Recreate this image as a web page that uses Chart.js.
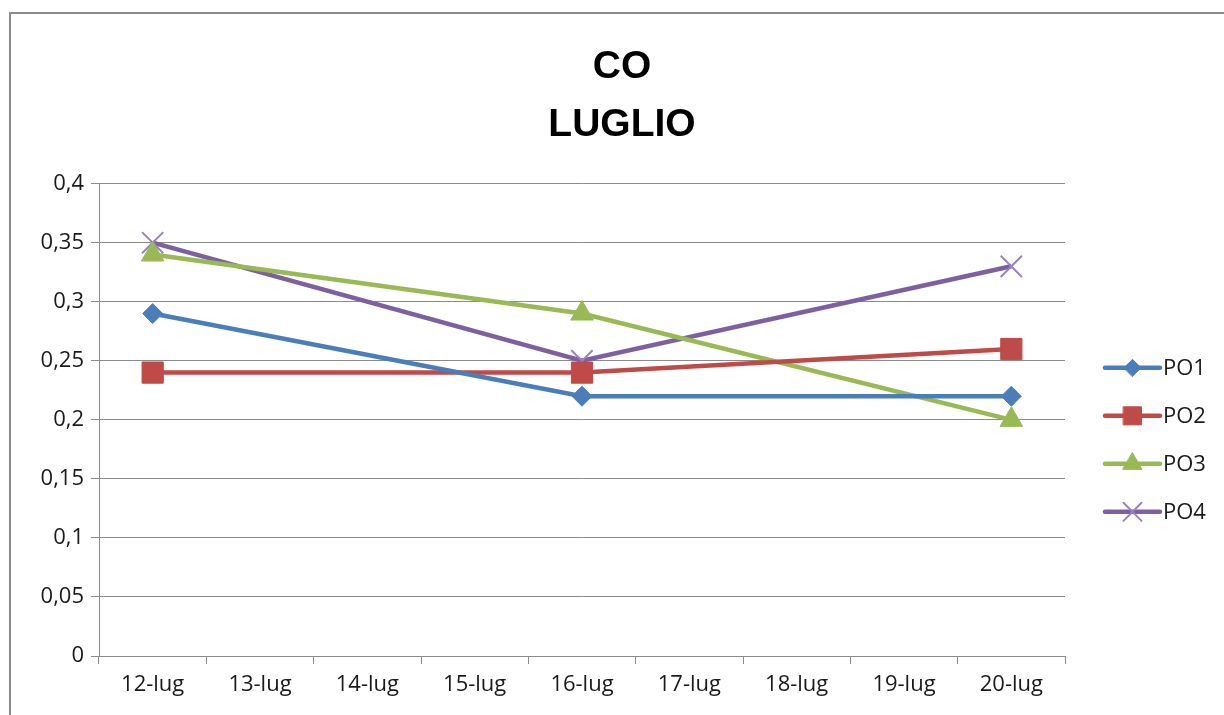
<!DOCTYPE html>
<html><head><meta charset="utf-8">
<script src="https://cdn.jsdelivr.net/npm/chart.js@4"></script>
<style>
html,body{margin:0;padding:0;background:#fff;overflow:hidden}
#frame{position:absolute;left:9px;top:12px;width:1400px;height:900px;border:2px solid #8a8a8a;box-sizing:border-box}
#wrap{position:absolute;left:0;top:0;width:1224px;height:715px}
</style></head><body>
<div id="frame"></div>
<div id="wrap"><canvas id="c"></canvas></div>
<script>
// ---- data ----
const categories = ['12-lug','13-lug','14-lug','15-lug','16-lug','17-lug','18-lug','19-lug','20-lug'];
const seriesNames = ['PO1','PO2','PO3','PO4'];
const po1 = [0.29, null, null, null, 0.22, null, null, null, 0.22];
const po2 = [0.24, null, null, null, 0.24, null, null, null, 0.26];
const po3 = [0.34, null, null, null, 0.29, null, null, null, 0.20];
const po4 = [0.35, null, null, null, 0.25, null, null, null, 0.33];
const titleLines = ['CO', 'LUGLIO'];
const yMin = 0, yMax = 0.4, yStep = 0.05;

// ---- styles ----
const colors = ['#4A7EBB', '#BE4B48', '#98B954', '#7D60A0'];
const markerColors = ['#4A7EBB', '#BE4B48', '#98B954', '#9A83BD'];
const markers = ['rectRot', 'rect', 'triangle', 'crossRot'];
const radii = [10, 15, 13, 15];
const markerBorder = [1, 1, 1, 2];
const FONT = "'Open Sans', sans-serif";

const values = [po1, po2, po3, po4];
const datasets = values.map((v, i) => ({
  label: seriesNames[i],
  data: v,
  borderColor: colors[i],
  backgroundColor: colors[i],
  borderWidth: 4.5,
  pointStyle: markers[i],
  pointRadius: radii[i],
  pointHoverRadius: radii[i],
  pointBackgroundColor: markerColors[i],
  pointBorderColor: markerColors[i],
  pointBorderWidth: markerBorder[i],
  spanGaps: true,
  tension: 0
}));

const sideLegend = {
  id: 'sideLegend',
  afterDraw(chart) {
    const ctx = chart.ctx;
    const area = chart.chartArea;
    const x0 = area.right + 40, len = 55;
    const gap = 48;
    const n = chart.data.datasets.length;
    const yc = (area.top + area.bottom) / 2 + 20;
    const y0 = yc - gap * (n - 1) / 2;
    chart.data.datasets.forEach((ds, i) => {
      const y = y0 + i * gap;
      ctx.save();
      ctx.strokeStyle = ds.borderColor;
      ctx.lineWidth = 4.5;
      ctx.lineCap = 'round';
      ctx.beginPath();
      ctx.moveTo(x0, y); ctx.lineTo(x0 + len, y);
      ctx.stroke();
      ctx.fillStyle = ds.pointBackgroundColor;
      ctx.strokeStyle = ds.pointBorderColor;
      ctx.lineWidth = ds.pointBorderWidth;
      Chart.helpers.drawPoint(ctx, {pointStyle: ds.pointStyle, radius: ds.pointRadius * 0.85, rotation: 0, borderWidth: ds.pointBorderWidth}, x0 + len / 2, y);
      ctx.fillStyle = '#1a1a1a';
      ctx.font = '22px ' + FONT;
      ctx.textBaseline = 'middle';
      ctx.textAlign = 'left';
      ctx.fillText(ds.label, x0 + len + 3, y + 1);
      ctx.restore();
    });
  }
};

new Chart(document.getElementById('c'), {
  type: 'line',
  data: { labels: categories, datasets },
  plugins: [sideLegend],
  options: {
    responsive: true,
    maintainAspectRatio: false,
    animation: false,
    layout: { padding: { left: 20, right: 0, top: 0, bottom: 0 } },
    plugins: {
      legend: { display: false },
      tooltip: { enabled: false },
      title: {
        display: true,
        text: titleLines,
        color: '#000',
        font: { family: "'Liberation Sans', Arial, sans-serif", size: 39, weight: 'bold', lineHeight: 1.47 },
        padding: { top: 39, bottom: 30 }
      }
    },
    scales: {
      x: {
        type: 'category',
        offset: true,
        grid: { display: true, drawOnChartArea: false, drawTicks: true, tickLength: 8, offset: true, color: '#8a8a8a', lineWidth: 1 },
        border: { display: true, color: '#8a8a8a', width: 1 },
        ticks: { color: '#1a1a1a', font: { family: FONT, size: 22 }, padding: 8, maxRotation: 0, autoSkip: false },
        afterFit(s) { s.height = 59; }
      },
      y: {
        min: yMin, max: yMax,
        grid: { color: '#8a8a8a', lineWidth: 1, tickLength: 8, drawTicks: true },
        border: { display: true, color: '#8a8a8a', width: 1 },
        ticks: {
          stepSize: yStep,
          color: '#1a1a1a',
          font: { family: FONT, size: 22 },
          padding: 7,
          callback: v => String(Number(v.toFixed(2))).replace('.', ',')
        },
        afterFit(s) { s.width = 79; }
      },
      legendSpace: {
        type: 'linear',
        position: 'right',
        display: true,
        grid: { display: false, drawTicks: false },
        border: { display: false },
        ticks: { display: false },
        afterFit(s) { s.width = 159; }
      }
    }
  }
});
</script>
</body></html>
